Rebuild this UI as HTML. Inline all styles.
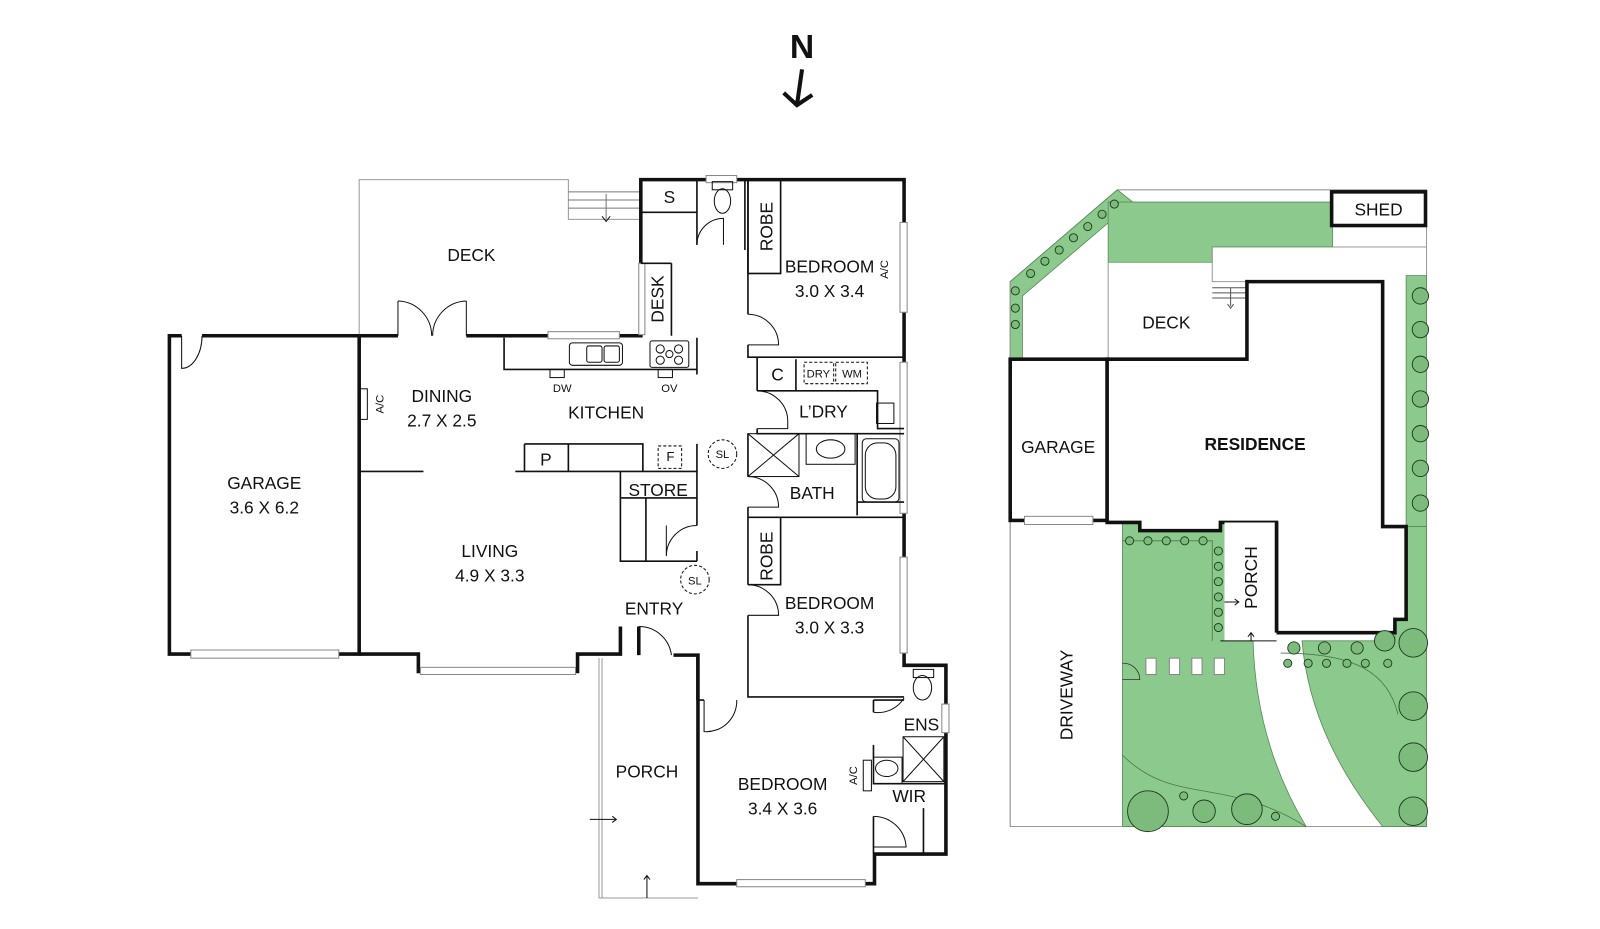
<!DOCTYPE html>
<html><head><meta charset="utf-8"><style>
html,body{margin:0;padding:0;background:#fff;}
svg{display:block;}
text{font-family:"Liberation Sans",sans-serif;fill:#111;}
</style></head><body>
<svg width="1600" height="929" viewBox="0 0 1568 910.4" xmlns="http://www.w3.org/2000/svg">
<rect width="1568" height="911" fill="#fff"/>
<!-- North -->
<text x="786" y="57" font-size="33" font-weight="bold" text-anchor="middle">N</text>
<path d="M786,68 L781,103 M768,91 L781,103 L796,93" stroke="#111" stroke-width="4" fill="none"/>

<!-- ========== MAIN PLAN ========== -->
<g fill="none" stroke="#111">
<path d="M352,329 V176 H557 V215 H628" stroke="#999" stroke-width="1"/>
<path d="M557,188 H628 M557,196 H628 M557,204 H628 M594,190 V215" stroke="#777" stroke-width="1"/>
<path d="M590,212 L594,217 L598,212" stroke="#111" stroke-width="1"/>
<path d="M587,645 V880 H684 M590,645 V880" stroke="#999" stroke-width="1"/>
<path d="M578,803 H604 M600,800 L604,803 L600,806 M634,880 V858 M631,862 L634,858 L637,862" stroke="#111" stroke-width="1"/>

<g stroke-width="3.5">
<path d="M178,329 H166 V641 H352 V329 M198,329 H352"/>
<path d="M352,329 H390 M457,329 H628 V176 H886 V652 H927 V837 H857 V866 H684 V642 H660"/>
<path d="M352,641 H410 V658 H566 V641 H608 V614"/>
<path d="M626,642 V614"/>
</g>
<g stroke="#888" stroke-width="1" fill="#fff">
<rect x="187" y="637" width="145" height="8"/>
<rect x="412" y="654" width="152" height="7"/>
<rect x="537" y="325" width="70" height="7"/>
<rect x="882" y="218" width="7" height="88"/>
<rect x="882" y="355" width="7" height="148"/>
<rect x="882" y="546" width="7" height="94"/>
<rect x="923" y="690" width="7" height="28"/>
<rect x="722" y="862" width="126" height="7"/>
<rect x="692" y="172" width="30" height="7"/>
<rect x="626" y="258" width="6" height="70"/>
</g>
<g stroke-width="1.6">
<path d="M628,208 H683 M683,176 V240 M730,176 V245"/>
<path d="M658,258 V329 M628,258 H658"/>
<path d="M733,176 V308 M733,338 V350 H886"/>
<rect x="733" y="176" width="32" height="92"/>
<path d="M494,331 V362 H683 M683,331 V367"/>
<path d="M742,350 V383 M742,420 V425 H886 M780,352 V383 H742 M780,383 H860 V420 H886"/>
<path d="M733,425 V467 M733,497 V507 H886 M840,425 V505 M840,492 H886"/>
<path d="M733,507 V573 M733,603 V683 H886 M733,573 H765 V507"/>
<path d="M352,462 H415 M505,462 H683 V435 M514,435 H630 V462 M557,435 V462"/>
<path d="M514,435 V462"/>
<path d="M608,462 V550 H683 M608,488 H683 M633,488 V550 M683,462 V515 M683,540 V550"/>
<path d="M683,642 V686 M684,686 H690"/>
<path d="M856,686 H886 M856,686 V698 M856,730 V768 H927 M856,800 V836 M905,792 V836"/>
</g>
<g stroke-width="1">
<path d="M178,329 V361 A20,32 0 0 0 198,329" />
<path d="M390,295 V329 M390,295 A34,34 0 0 1 423,329 M457,295 V329 M457,295 A34,34 0 0 0 424,329"/>
<path d="M683,240 A26,26 0 0 1 709,214 V240"/>
<path d="M733,308 A30,30 0 0 1 763,338 H733"/>
<path d="M742,383 A30,30 0 0 1 772,413 V420 H742"/>
<path d="M733,467 A30,30 0 0 1 763,497 H733"/>
<path d="M733,573 A30,30 0 0 1 763,603 H733"/>
<path d="M683,515 A30,30 0 0 0 653,545 M653,515 V545"/>
<path d="M626,614 A32,32 0 0 1 658,642 M626,614 V642"/>
<path d="M690,686 V717 A30,30 0 0 0 722,686"/>
<path d="M856,698 A30,30 0 0 0 886,684"/>
<path d="M856,800 A32,32 0 0 1 888,830 H856"/>
</g>
<g stroke-width="1">
<rect x="558" y="336" width="52" height="22" rx="3"/>
<rect x="575" y="339" width="15" height="16" rx="2"/><rect x="592" y="339" width="15" height="16" rx="2"/>
<rect x="637" y="334" width="38" height="26" rx="2"/>
<circle cx="647" cy="342" r="4"/><circle cx="665" cy="342" r="4"/><circle cx="656" cy="347" r="3.5"/><circle cx="647" cy="353" r="4"/><circle cx="665" cy="353" r="4"/>
<rect x="539" y="362" width="14" height="8"/><rect x="645" y="362" width="14" height="8"/>
<ellipse cx="708" cy="197" rx="8" ry="12"/><rect x="698" y="178" width="20" height="8"/>
<rect x="788" y="355" width="29" height="21" stroke-dasharray="3,2"/><rect x="819" y="355" width="31" height="21" stroke-dasharray="3,2"/>
<rect x="859" y="395" width="17" height="20"/>
<rect x="733" y="425" width="50" height="42"/><path d="M733,425 L783,467 M783,425 L733,467"/>
<rect x="790" y="425" width="48" height="30"/><ellipse cx="814" cy="440" rx="14" ry="9"/>
<rect x="845" y="430" width="36" height="62" rx="4"/><rect x="848" y="434" width="30" height="55" rx="12"/>
<rect x="645" y="437" width="23" height="22" stroke-dasharray="3,2"/>
<circle cx="708" cy="445" r="14" stroke-dasharray="3,2"/>
<circle cx="681" cy="568" r="14" stroke-dasharray="3,2"/>
<rect x="352" y="381" width="8" height="30"/>
<rect x="846" y="745" width="8" height="30"/>
<ellipse cx="904" cy="674" rx="9" ry="12"/><rect x="895" y="656" width="20" height="8"/>
<rect x="885" y="722" width="40" height="44"/><path d="M885,722 L925,766 M925,722 L885,766"/>
<rect x="856" y="742" width="28" height="26"/><ellipse cx="869" cy="753" rx="11" ry="8"/>
</g>
</g>
<g font-size="17" text-anchor="middle">
<text x="462" y="256">DECK</text>
<text x="656" y="199">S</text>
<text x="259" y="479">GARAGE</text><text x="259" y="503">3.6 X 6.2</text>
<text x="433" y="394">DINING</text><text x="433" y="418">2.7 X 2.5</text>
<text x="594" y="410">KITCHEN</text>
<text x="813" y="267">BEDROOM</text><text x="813" y="291">3.0 X 3.4</text>
<text x="762" y="373">C</text>
<text x="807" y="409">L’DRY</text>
<text x="796" y="489">BATH</text>
<text x="535" y="456">P</text>
<text x="645" y="486">STORE</text>
<text x="480" y="546">LIVING</text><text x="480" y="570">4.9 X 3.3</text>
<text x="813" y="597">BEDROOM</text><text x="813" y="621">3.0 X 3.3</text>
<text x="641" y="602">ENTRY</text>
<text x="634" y="762">PORCH</text>
<text x="767" y="774">BEDROOM</text><text x="767" y="798">3.4 X 3.6</text>
<text x="903" y="716">ENS</text>
<text x="891" y="786">WIR</text>
<text x="751" y="222" transform="rotate(-90 751 222)" dy="6">ROBE</text>
<text x="751" y="545" transform="rotate(-90 751 545)" dy="6">ROBE</text>
<text x="644" y="293" transform="rotate(-90 644 293)" dy="6">DESK</text>
</g>
<g font-size="11" text-anchor="middle">
<text x="551" y="384">DW</text><text x="656" y="384">OV</text>
<text x="802" y="370">DRY</text><text x="835" y="370">WM</text>
<text x="657" y="452" font-size="13">F</text>
<text x="708" y="449">SL</text><text x="681" y="573">SL</text>
<text x="372" y="396" transform="rotate(-90 372 396)" dy="4">A/C</text>
<text x="866" y="264" transform="rotate(-90 866 264)" dy="4">A/C</text>
<text x="836" y="760" transform="rotate(-90 836 760)" dy="4">A/C</text>
</g>

<!-- ========== SITE PLAN ========== -->
<g>
<path d="M990,276 L1095,186 H1398 V810 H990 Z" fill="#fff" stroke="#999" stroke-width="1"/>
<g fill="#8cc98c" stroke="#5a8a5a" stroke-width="0.8">
<path d="M990,276 L1095,186 L1110,198 L1002,290 V352 H990 Z"/>
<path d="M1086,198 H1306 V242 H1188 V257 H1086 Z"/>
<path d="M1378,270 H1398 V516 H1378 Z"/>
<path d="M1100,512 H1117 V520 H1196 V512 H1228 V628 C1230,700 1250,760 1280,810 H1100 Z"/>
<path d="M1276,628 H1367 V607 H1378 V516 H1398 V810 H1355 C1315,760 1282,700 1276,628 Z"/>
</g>
<path d="M990,276 V810" stroke="#999" stroke-width="1"/>
<path d="M1086,257 V352" stroke="#999" stroke-width="1"/>
<path d="M1222,276 H1188 V242 M1306,242 H1398" stroke="#999" stroke-width="1" fill="none"/>
<path d="M1188,282 H1222 M1188,287 H1222 M1188,292 H1222 M1206,282 V300 M1203,298 L1206,302 L1209,298" stroke="#555" stroke-width="1" fill="none"/>
<g stroke="#111" stroke-width="3.5" fill="#fff">
<rect x="990" y="352" width="95" height="158"/>
<path d="M1085,352 H1222 V276 H1355 V516 H1378 V607 H1367 V620 H1251 V512 H1196 V520 H1117 V512 H1085 Z"/>
<rect x="1305" y="188" width="92" height="33"/>
</g>
<rect x="1004" y="506" width="67" height="8" fill="#fff" stroke="#888"/>
<path d="M1200,512 H1251 V628 H1200 Z" fill="#fff"/>
<path d="M1251,512 V620" stroke="#111" stroke-width="3.5"/>
<path d="M1196,628 H1251 M1226,628 V620 M1223,624 L1226,620 L1229,624 M1200,590 H1214 M1210,587 L1214,590 L1210,593" stroke="#111" stroke-width="1" fill="none"/>
<path d="M1100,530 H1188 V628 M1255,640 C1330,640 1360,660 1370,700 M1100,740 C1150,790 1200,760 1280,810" stroke="#4a7a4a" stroke-width="0.8" fill="none"/>
<g fill="#fff" stroke="#888"><rect x="1123" y="645" width="10" height="16"/><rect x="1146" y="645" width="10" height="16"/><rect x="1168" y="645" width="10" height="16"/><rect x="1190" y="645" width="10" height="16"/></g>
<path d="M1100,650 A16,16 0 0 1 1117,666 H1100" fill="none" stroke="#333" stroke-width="0.8"/>
<g fill="#7dbb7d" stroke="#1e3a1e" stroke-width="0.9">
<circle cx="1010" cy="268" r="4"/><circle cx="1024" cy="256" r="4"/><circle cx="1038" cy="245" r="4"/><circle cx="1052" cy="233" r="4"/><circle cx="1066" cy="222" r="4"/><circle cx="1080" cy="210" r="4"/><circle cx="1092" cy="200" r="4"/>
<circle cx="995" cy="285" r="4"/><circle cx="995" cy="302" r="4"/><circle cx="995" cy="318" r="4"/>
<circle cx="1392" cy="290" r="8"/><circle cx="1392" cy="323" r="8"/><circle cx="1392" cy="357" r="8"/><circle cx="1392" cy="391" r="8"/><circle cx="1392" cy="425" r="8"/><circle cx="1392" cy="459" r="8"/><circle cx="1392" cy="493" r="8"/>
<circle cx="1107" cy="530" r="4"/><circle cx="1125" cy="530" r="4"/><circle cx="1143" cy="530" r="4"/><circle cx="1161" cy="530" r="4"/><circle cx="1179" cy="530" r="4"/>
<circle cx="1194" cy="540" r="4"/><circle cx="1194" cy="555" r="4"/><circle cx="1194" cy="570" r="4"/><circle cx="1194" cy="585" r="4"/><circle cx="1194" cy="600" r="4"/><circle cx="1194" cy="615" r="4"/>
<circle cx="1268" cy="635" r="6"/><circle cx="1298" cy="635" r="6"/><circle cx="1330" cy="635" r="6"/><circle cx="1262" cy="650" r="4"/><circle cx="1282" cy="650" r="4"/><circle cx="1300" cy="650" r="4"/><circle cx="1320" cy="650" r="4"/><circle cx="1338" cy="650" r="4"/><circle cx="1360" cy="650" r="4"/>
<circle cx="1385" cy="630" r="14"/><circle cx="1385" cy="692" r="14"/><circle cx="1385" cy="742" r="14"/><circle cx="1385" cy="795" r="14"/><circle cx="1357" cy="628" r="10"/>
<circle cx="1125" cy="795" r="20"/><circle cx="1180" cy="795" r="11"/><circle cx="1222" cy="793" r="15"/><circle cx="1160" cy="780" r="4"/><circle cx="1250" cy="800" r="4"/>
</g>
</g>
<g font-size="17" text-anchor="middle">
<text x="1351" y="211">SHED</text>
<text x="1143" y="322">DECK</text>
<text x="1037" y="444">GARAGE</text>
<text x="1230" y="441" font-weight="bold">RESIDENCE</text>
<text x="1226" y="566" transform="rotate(-90 1226 566)" dy="6">PORCH</text>
<text x="1045" y="681" transform="rotate(-90 1045 681)" dy="6">DRIVEWAY</text>
</g>
</svg>
</body></html>
